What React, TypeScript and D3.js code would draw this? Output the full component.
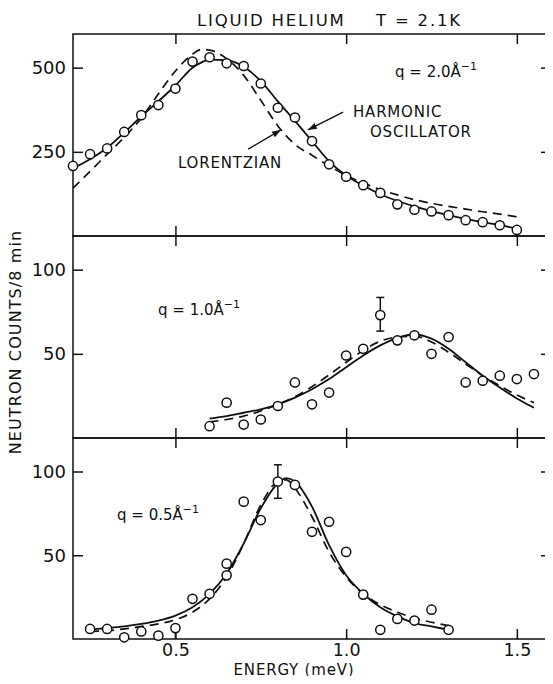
import React, { useEffect, useRef } from 'react';
import * as d3 from 'd3';

const W = 553;
const H = 684;
const FONT = '"DejaVu Sans", sans-serif';

const energyTicks = [0.5, 1.0, 1.5];
const energyTickLabels = ['0.5', '1.0', '1.5'];

// q = 2.0 A^-1
const q2Energy = [0.2, 0.25, 0.3, 0.35, 0.4, 0.45, 0.5, 0.55, 0.6, 0.65, 0.7, 0.75, 0.8, 0.85, 0.9, 0.95, 1.0, 1.05, 1.1, 1.15, 1.2, 1.25, 1.3, 1.35, 1.4, 1.45, 1.5];
const q2Counts = [208, 243, 260, 309, 359, 389, 438, 518, 531, 513, 505, 453, 381, 352, 282, 213, 176, 151, 128, 94, 78, 73, 62, 47, 41, 32, 18];
const q2CurveEnergy = [0.2, 0.25, 0.3, 0.35, 0.4, 0.45, 0.5, 0.55, 0.575, 0.6, 0.65, 0.7, 0.75, 0.8, 0.85, 0.9, 0.95, 1.0, 1.05, 1.1, 1.15, 1.2, 1.25, 1.3, 1.35, 1.4, 1.45, 1.5];
const q2Oscillator = [201, 228, 262, 307, 355, 400, 447, 500, 515, 524, 522, 503, 460, 400, 342, 282, 222, 180, 150, 124, 104, 88, 74, 62, 51, 41, 32, 22];
const q2Lorentzian = [142, 192, 243, 293, 350, 422, 490, 540, 554, 552, 527, 477, 403, 327, 272, 240, 208, 180, 157, 138, 122, 108, 97, 88, 80, 72, 65, 57];

// q = 1.0 A^-1
const q1Energy = [0.6, 0.65, 0.7, 0.75, 0.8, 0.85, 0.9, 0.95, 1.0, 1.05, 1.1, 1.15, 1.2, 1.25, 1.3, 1.35, 1.4, 1.45, 1.5, 1.55];
const q1Counts = [7, 21, 8, 11, 19, 33, 20, 27, 49, 53, 73, 58, 61, 50, 60, 33, 34, 37, 35, 38];
const q1CurveEnergy = [0.6, 0.65, 0.7, 0.75, 0.8, 0.85, 0.9, 0.95, 1.0, 1.05, 1.1, 1.15, 1.2, 1.25, 1.3, 1.35, 1.4, 1.45, 1.5, 1.55];
const q1Oscillator = [11.5, 13, 15, 17, 20, 24, 29, 35, 42, 49, 55, 59.5, 61.5, 59, 53, 45, 37, 30, 23.5, 18];
const q1Lorentzian = [9.5, 11, 13, 16, 20, 24.5, 30.5, 37.5, 45, 52, 57.5, 60, 60.5, 57, 51, 44, 37, 31, 25.5, 21];

// q = 0.5 A^-1
const q05Energy = [0.25, 0.3, 0.35, 0.4, 0.45, 0.5, 0.55, 0.6, 0.65, 0.65, 0.7, 0.75, 0.8, 0.85, 0.9, 0.95, 1.0, 1.05, 1.1, 1.15, 1.2, 1.25, 1.3];
const q05Counts = [6, 6, 1, 4.5, 2, 6.5, 24, 27, 38, 45, 82, 71, 94, 92, 64, 70, 52, 26.5, 5.5, 12, 11, 17.5, 5.5];
const q05CurveEnergy = [0.25, 0.3, 0.35, 0.4, 0.45, 0.5, 0.55, 0.6, 0.65, 0.7, 0.75, 0.8, 0.825, 0.85, 0.9, 0.95, 1.0, 1.05, 1.1, 1.15, 1.2, 1.25, 1.3];
const q05Oscillator = [5.7, 6.5, 7.5, 9, 11, 14, 19, 27, 39, 57, 78, 93, 96, 94, 79, 56, 38, 27, 19, 13.5, 9.5, 7.5, 5.5];
const q05Lorentzian = [4.5, 5, 6, 7.5, 9, 11.5, 16, 24, 37, 57, 80, 94, 95, 90, 73, 52, 37, 27, 20.5, 16, 12.5, 10, 8];

// error bars: energy, count, low, high
const q1Errors = [[1.1, 73, 63.5, 83.5]];
const q05Errors = [[0.8, 94, 84, 104], [0.5, 6.5, 0, 6.5]];

const panels = [
  {
    top: 34, bottom: 236, yMax: 600, yTicks: [250, 500],
    energy: q2Energy, counts: q2Counts, curveEnergy: q2CurveEnergy,
    oscillator: q2Oscillator, lorentzian: q2Lorentzian, errors: [] as number[][],
    label: 'q = 2.0Å', labelX: 395, labelY: 77,
  },
  {
    top: 236, bottom: 438, yMax: 120, yTicks: [50, 100],
    energy: q1Energy, counts: q1Counts, curveEnergy: q1CurveEnergy,
    oscillator: q1Oscillator, lorentzian: q1Lorentzian, errors: q1Errors,
    label: 'q = 1.0Å', labelX: 158, labelY: 315,
  },
  {
    top: 438, bottom: 639, yMax: 120, yTicks: [50, 100],
    energy: q05Energy, counts: q05Counts, curveEnergy: q05CurveEnergy,
    oscillator: q05Oscillator, lorentzian: q05Lorentzian, errors: q05Errors,
    label: 'q = 0.5Å', labelX: 117, labelY: 520,
  },
];

const App = () => {
  const ref = useRef<SVGSVGElement | null>(null);

  useEffect(() => {
    const svg = d3.select(ref.current);
    svg.selectAll('*').remove();

    const left = 73;
    const right = 551;
    const x = d3.scaleLinear().domain([0.2, 1.6]).range([left, right]);

    svg.append('defs').append('marker')
      .attr('id', 'arrow')
      .attr('viewBox', '0 0 10 10')
      .attr('refX', 10).attr('refY', 5)
      .attr('markerWidth', 9).attr('markerHeight', 9)
      .attr('markerUnits', 'userSpaceOnUse')
      .attr('orient', 'auto')
      .append('path').attr('d', 'M0,1.5L10,5L0,8.5Z').attr('fill', '#111');

    panels.forEach((p, i) => {
      const y = d3.scaleLinear().domain([0, p.yMax]).range([p.bottom, p.top]);
      const g = svg.append('g');

      g.append('rect')
        .attr('x', left).attr('y', p.top)
        .attr('width', right - left).attr('height', p.bottom - p.top)
        .attr('fill', 'none').attr('stroke', '#111').attr('stroke-width', 1.5);

      const ax = g.append('g').attr('transform', `translate(${left},0)`)
        .call(d3.axisLeft(y).tickValues(p.yTicks).tickSize(-10).tickPadding(7).tickFormat(d3.format('d')));
      g.append('g').attr('transform', `translate(${right},0)`)
        .call(d3.axisRight(y).tickValues(p.yTicks).tickSize(-10).tickFormat(() => ''));
      g.append('g').attr('transform', `translate(0,${p.top})`)
        .call(d3.axisTop(x).tickValues(energyTicks).tickSize(-10).tickFormat(() => ''));
      const bx = g.append('g').attr('transform', `translate(0,${p.bottom})`)
        .call(d3.axisBottom(x).tickValues(energyTicks).tickSize(-10).tickPadding(5)
          .tickFormat((d, k) => (i === panels.length - 1 ? energyTickLabels[k] : '')));

      g.selectAll('.domain').remove();
      g.selectAll('.tick line').attr('stroke', '#111').attr('stroke-width', 1.5);
      ax.selectAll('text').attr('font-family', FONT).attr('font-size', 18).attr('fill', '#111');
      bx.selectAll('text').attr('font-family', FONT).attr('font-size', 17.5).attr('fill', '#111');

      const line = d3.line<number>()
        .x((_, k) => x(p.curveEnergy[k]))
        .curve(d3.curveMonotoneX);

      g.append('path')
        .attr('d', line.y((d) => y(d))(p.lorentzian))
        .attr('fill', 'none').attr('stroke', '#111').attr('stroke-width', 1.7)
        .attr('stroke-dasharray', '9,6');
      g.append('path')
        .attr('d', line.y((d) => y(d))(p.oscillator))
        .attr('fill', 'none').attr('stroke', '#111').attr('stroke-width', 1.8);

      p.errors.forEach((e) => {
        const ex = x(e[0]);
        g.append('line').attr('x1', ex).attr('x2', ex).attr('y1', y(e[2])).attr('y2', y(e[3]))
          .attr('stroke', '#111').attr('stroke-width', 1.5);
        [e[2], e[3]].forEach((v) => {
          if (v <= 0) return;
          g.append('line').attr('x1', ex - 4).attr('x2', ex + 4).attr('y1', y(v)).attr('y2', y(v))
            .attr('stroke', '#111').attr('stroke-width', 1.5);
        });
      });

      g.selectAll('circle.pt').data(p.counts).enter().append('circle')
        .attr('class', 'pt')
        .attr('cx', (_, k) => x(p.energy[k]))
        .attr('cy', (d) => y(d))
        .attr('r', 4.6)
        .attr('fill', '#fff').attr('stroke', '#111').attr('stroke-width', 1.5);

      const t = g.append('text')
        .attr('x', p.labelX).attr('y', p.labelY)
        .attr('font-family', FONT).attr('font-size', 15).attr('fill', '#111');
      t.append('tspan').text(p.label);
      t.append('tspan').attr('dy', -7).attr('font-size', 11).text('−1');

      if (i === 0) {
        const arrows = [
          { from: [0.991, 368], to: [0.888, 315] },
          { from: [0.713, 258], to: [0.809, 315] },
        ];
        arrows.forEach((a) => {
          g.append('line')
            .attr('x1', x(a.from[0])).attr('y1', y(a.from[1]))
            .attr('x2', x(a.to[0])).attr('y2', y(a.to[1]))
            .attr('stroke', '#111').attr('stroke-width', 1.4)
            .attr('marker-end', 'url(#arrow)');
        });
        const notes = [
          { text: 'HARMONIC', px: 353, py: 117 },
          { text: 'OSCILLATOR', px: 370, py: 137 },
          { text: 'LORENTZIAN', px: 178, py: 168 },
        ];
        notes.forEach((n) => {
          g.append('text').attr('x', n.px).attr('y', n.py)
            .attr('font-family', FONT).attr('font-size', 15).attr('letter-spacing', 0.8)
            .attr('fill', '#111').text(n.text);
        });
      }
    });

    svg.append('text').attr('x', 197).attr('y', 26)
      .attr('font-family', FONT).attr('font-size', 16.5).attr('letter-spacing', 1.8)
      .attr('fill', '#111').text('LIQUID HELIUM');
    svg.append('text').attr('x', 376).attr('y', 26)
      .attr('font-family', FONT).attr('font-size', 16.5).attr('letter-spacing', 1.8)
      .attr('fill', '#111').text('T = 2.1K');

    svg.append('text')
      .attr('transform', 'translate(21,342) rotate(-90)')
      .attr('text-anchor', 'middle')
      .attr('font-family', FONT).attr('font-size', 16).attr('letter-spacing', 1.1)
      .attr('fill', '#111').text('NEUTRON COUNTS/8 min');

    svg.append('text').attr('x', 294).attr('y', 675)
      .attr('text-anchor', 'middle')
      .attr('font-family', FONT).attr('font-size', 15).attr('letter-spacing', 0.8)
      .attr('fill', '#111').text('ENERGY (meV)');
  }, []);

  return (
    <div style={{ margin: -8 }}>
      <svg ref={ref} width={W} height={H} style={{ display: 'block', background: '#fff' }} />
    </div>
  );
};

export default App;
